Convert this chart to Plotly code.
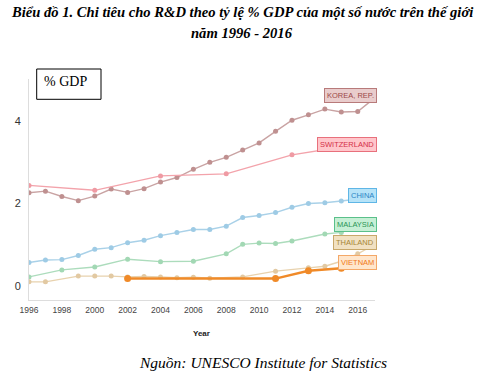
import plotly.graph_objects as go

# ---------------- data ----------------
korea_years = list(range(1996, 2018))
korea_vals = [2.26, 2.30, 2.17, 2.07, 2.18, 2.35, 2.27, 2.36, 2.52, 2.63, 2.83,
              3.00, 3.12, 3.30, 3.47, 3.75, 4.02, 4.15, 4.29, 4.22, 4.23, 4.55]

swiss_years = [1996, 2000, 2004, 2008, 2012, 2015]
swiss_vals = [2.44, 2.32, 2.67, 2.72, 3.18, 3.37]

china_years = list(range(1996, 2018))
china_vals = [0.57, 0.63, 0.64, 0.74, 0.89, 0.93, 1.05, 1.11, 1.22, 1.30, 1.37,
              1.37, 1.45, 1.66, 1.71, 1.78, 1.91, 2.00, 2.02, 2.06, 2.11, 2.13]

malaysia_years = [1996, 1998, 2000, 2002, 2004, 2006, 2008, 2009, 2010, 2011, 2012, 2014, 2015, 2016]
malaysia_vals = [0.22, 0.39, 0.46, 0.65, 0.59, 0.60, 0.78, 1.01, 1.04, 1.03, 1.09, 1.26, 1.30, 1.44]

thailand_years = [1996, 1997, 1999, 2000, 2001, 2002, 2003, 2004, 2005, 2006, 2007,
                  2009, 2011, 2013, 2014, 2015, 2016, 2017]
thailand_vals = [0.10, 0.10, 0.24, 0.24, 0.24, 0.22, 0.23, 0.22, 0.20, 0.21, 0.19,
                 0.22, 0.36, 0.44, 0.48, 0.60, 0.78, 1.00]

vietnam_years = [2002, 2011, 2013, 2015, 2017]
vietnam_vals = [0.18, 0.18, 0.37, 0.43, 0.53]

x_ticks = list(range(1996, 2017, 2))
y_ticks = [0, 2, 4]

# ---------------- styles ----------------
series = [
    ("KOREA, REP.", korea_years, korea_vals, "#c9a3a3", "#bf9090", "#e9cccc", "#b87a7a", "#9c4848"),
    ("SWITZERLAND", swiss_years, swiss_vals, "#f3a3ab", "#ef9aa3", "#ffc6cb", "#e8707c", "#d43048"),
    ("CHINA", china_years, china_vals, "#a9d1e8", "#9ecbe5", "#b6e3f8", "#5fb6e6", "#2a86c6"),
    ("MALAYSIA", malaysia_years, malaysia_vals, "#acdcbc", "#a2d8b4", "#c6efd5", "#5ac08a", "#2a9656"),
    ("THAILAND", thailand_years, thailand_vals, "#e8d2ae", "#e2c9a2", "#f1e1c2", "#c8a86a", "#a68636"),
]

label_y = {"KOREA, REP.": 4.61, "SWITZERLAND": 3.43, "CHINA": 2.20,
           "MALAYSIA": 1.48, "THAILAND": 1.06, "VIETNAM": 0.57}

fig = go.Figure()
for name, xs, ys, lc, mc, bg, bc, tc in series:
    fig.add_trace(go.Scatter(x=xs, y=ys, mode="lines+markers", name=name,
                             line=dict(color=lc, width=1.4),
                             marker=dict(color=mc, size=5), showlegend=False))
fig.add_trace(go.Scatter(x=vietnam_years, y=vietnam_vals, mode="lines+markers", name="VIETNAM",
                         line=dict(color="#f08a28", width=2.4),
                         marker=dict(color="#f08a28", size=7), showlegend=False))

annotations = []
all_labels = [(s[0], s[5], s[6], s[7]) for s in series] + [("VIETNAM", "#ffe6cc", "#f4a868", "#f07818")]
for name, bg, bc, tc in all_labels:
    annotations.append(dict(x=2017, y=label_y[name], xref="x", yref="y", text=name,
                            showarrow=False, xanchor="right", yanchor="middle", xshift=3,
                            font=dict(family="Arial, Liberation Sans", size=7.5, color=tc),
                            bgcolor=bg, bordercolor=bc, borderwidth=1, borderpad=2))

# plot area in page pixels: x 28.7..375, y 79..300 (width 346, height 221)
annotations.append(dict(x=0.616, y=1.303, xref="paper", yref="paper", showarrow=False,
                        text="<b><i>Biểu đồ 1. Chi tiêu cho R&D theo tỷ lệ % GDP của một số nước trên thế giới</i></b>",
                        font=dict(family="Liberation Serif", size=14.6, color="#000"),
                        xanchor="center", yanchor="middle"))
annotations.append(dict(x=0.616, y=1.208, xref="paper", yref="paper", showarrow=False,
                        text="<b><i>năm 1996 - 2016</i></b>",
                        font=dict(family="Liberation Serif", size=14.6, color="#000"),
                        xanchor="center", yanchor="middle"))
annotations.append(dict(x=(65.5 - 29) / 346, y=(300 - 82) / 221, xref="paper", yref="paper",
                        showarrow=False, text="% GDP",
                        font=dict(family="Liberation Serif", size=14, color="#000"),
                        xanchor="center", yanchor="middle"))
annotations.append(dict(x=0.499, y=-0.151, xref="paper", yref="paper", showarrow=False,
                        text="<b>Year</b>", font=dict(family="Arial, Liberation Sans", size=8, color="#222"),
                        xanchor="center", yanchor="middle"))
annotations.append(dict(x=0.677, y=-0.285, xref="paper", yref="paper", showarrow=False,
                        text="<i>Nguồn: UNESCO Institute for Statistics</i>",
                        font=dict(family="Liberation Serif", size=15.5, color="#000"),
                        xanchor="center", yanchor="middle"))

shapes = [dict(type="rect", xref="paper", yref="paper",
               x0=(36.7 - 29) / 346, x1=(101 - 29) / 346,
               y0=(300 - 99.3) / 221, y1=(300 - 69) / 221,
               line=dict(color="#000", width=1), fillcolor="rgba(0,0,0,0)")]

fig.update_layout(
    width=488, height=392, autosize=False,
    margin=dict(l=29, r=113, t=79, b=92),
    paper_bgcolor="white", plot_bgcolor="white",
    annotations=annotations, shapes=shapes,
    xaxis=dict(range=[1996, 2017.05], tickvals=x_ticks, showgrid=False, zeroline=False,
               showline=True, linecolor="#dddddd", linewidth=1, ticks="",
               tickfont=dict(family="Arial, Liberation Sans", size=8.5, color="#444"),
               ticklabelstandoff=2),
    yaxis=dict(range=[-0.34, 5.02], tickvals=y_ticks, showgrid=False, zeroline=False,
               showline=True, linecolor="#dddddd", linewidth=1, ticks="",
               tickfont=dict(family="Arial, Liberation Sans", size=11, color="#333"),
               ticklabelstandoff=5),
)

# remove the browser's default 8px body margin so the figure fills the window
fig.write_html("out.html", config={"displayModeBar": False},
               post_script="document.body.style.margin='0';document.body.style.overflow='hidden';")
